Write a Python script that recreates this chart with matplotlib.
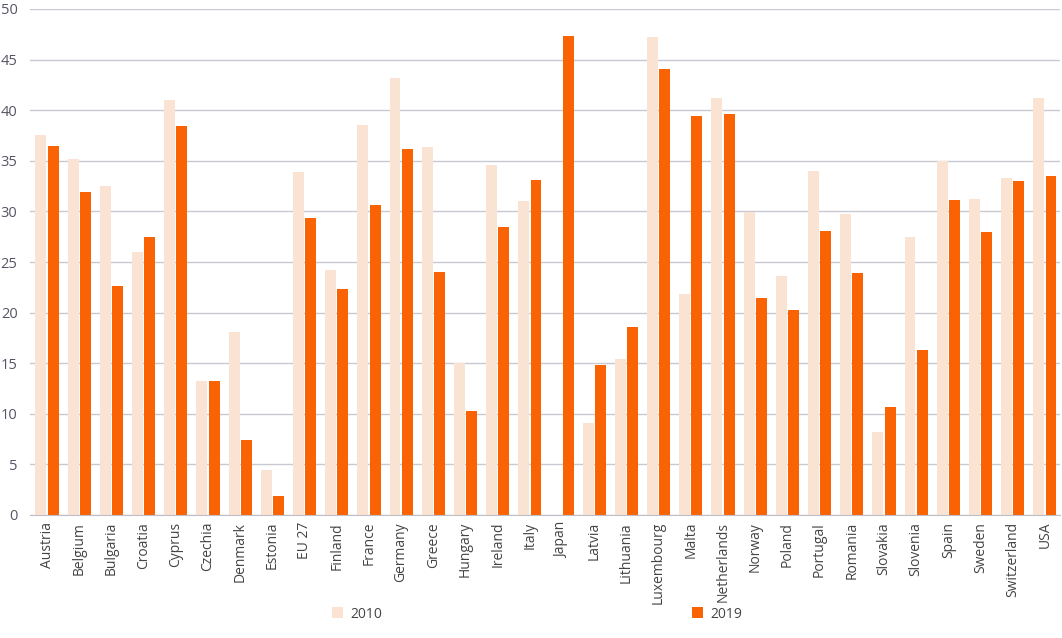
import matplotlib
matplotlib.use("Agg")
import matplotlib.pyplot as plt
import numpy as np

countries = ["Austria", "Belgium", "Bulgaria", "Croatia", "Cyprus", "Czechia", "Denmark",
             "Estonia", "EU 27", "Finland", "France", "Germany", "Greece", "Hungary",
             "Ireland", "Italy", "Japan", "Latvia", "Lithuania", "Luxembourg", "Malta",
             "Netherlands", "Norway", "Poland", "Portugal", "Romania", "Slovakia",
             "Slovenia", "Spain", "Sweden", "Switzerland", "USA"]
values_2010 = [37.5, 35.2, 32.5, 26.0, 41.0, 13.2, 18.1, 4.4, 33.9, 24.2, 38.5, 43.2,
               36.4, 15.0, 34.6, 31.0, 0.0, 9.1, 15.4, 47.2, 21.8, 41.2, 29.9, 23.6,
               34.0, 29.7, 8.2, 27.5, 35.0, 31.2, 33.3, 41.2]
values_2019 = [36.5, 31.9, 22.6, 27.5, 38.4, 13.2, 7.4, 1.9, 29.3, 22.3, 30.6, 36.2,
               24.0, 10.3, 28.5, 33.1, 47.3, 14.8, 18.6, 44.1, 39.4, 39.6, 21.4, 20.3,
               28.1, 23.9, 10.7, 16.3, 31.1, 28.0, 33.0, 33.5]
series_labels = ["2010", "2019"]
yticks = [0, 5, 10, 15, 20, 25, 30, 35, 40, 45, 50]

plt.rcParams['font.family'] = ['Open Sans', 'DejaVu Sans']

fig = plt.figure(figsize=(10.62, 6.38), dpi=100)
ax = fig.add_axes([30/1062, 123/638, 1030/1062, 506/638])

x = np.arange(len(countries))
w = 0.34
c2010 = "#FBE3D4"
c2019 = "#F96303"
b1 = ax.bar(x - w/2 - 0.02, values_2010, width=w, color=c2010, label=series_labels[0], zorder=3)
b2 = ax.bar(x + w/2 + 0.02, values_2019, width=w, color=c2019, label=series_labels[1], zorder=3)

ax.set_xlim(-0.53, len(countries) - 0.53)
ax.set_ylim(0, 50)
ax.set_yticks(yticks)
ax.set_xticks(x)
ax.set_xticklabels(countries, rotation=90, fontsize=10, color="#444444")
ax.tick_params(axis='y', labelsize=10.5, length=0, pad=9)
ax.tick_params(axis='x', length=0, pad=5)
for lbl in ax.get_yticklabels():
    lbl.set_color("#555566")
ax.grid(axis='y', color="#C9C9D2", linewidth=1, zorder=0)
for s in ["top", "right", "left"]:
    ax.spines[s].set_visible(False)
ax.spines["bottom"].set_color("#BFBFC8")
ax.spines["bottom"].set_zorder(4)

leg = fig.legend(handles=[b1, b2], labels=series_labels, loc="center",
                 bbox_to_anchor=(537/1062, 1 - 614/638), ncol=2, frameon=False,
                 fontsize=10, handlelength=0.8, handleheight=0.8, handletextpad=0.5,
                 columnspacing=22.3)
for t in leg.get_texts():
    t.set_color("#444444")

fig.savefig("out.png", dpi=100)
